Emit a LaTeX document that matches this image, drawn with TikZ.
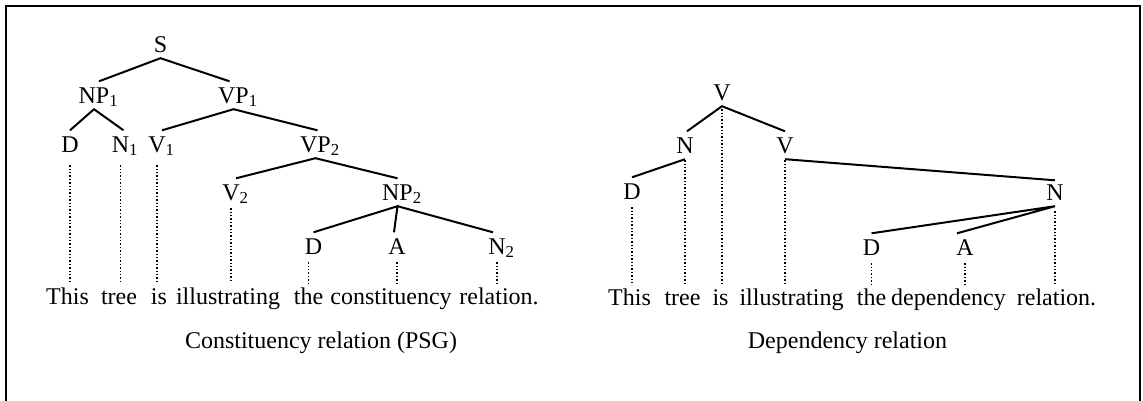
\documentclass[tikz,border=0pt]{standalone}
\usepackage{fontspec}
\setmainfont{Liberation Serif}
\usetikzlibrary{calc}
\begin{document}
\begin{tikzpicture}[x=1pt,y=-1pt,
  lab/.style={anchor=base,inner xsep=0pt,inner ysep=6pt,text height=15.5pt,text depth=0pt,font=\fontsize{24}{28}\selectfont},
  word/.style={anchor=base,inner xsep=0pt,inner ysep=4pt,text height=17pt,text depth=5pt,font=\fontsize{24}{28}\selectfont},
  captext/.style={anchor=base,inner sep=0pt,font=\fontsize{24}{28}\selectfont},
  edge/.style={line width=2pt},
  dots/.style={line width=1.4pt,dash pattern=on 1.4pt off 2pt}]
\useasboundingbox (0,0) rectangle (1143,400);
% frame (open at the bottom)
\draw[line width=2.8pt] (6,402) -- (6,6) -- (1140,6) -- (1140,402);

% ---------- constituency tree ----------
\node[lab] (lS)   at (160.5,52) {S};
\node[lab] (lNP1) at (94,103)   {NP\rlap{\textsubscript{1}}};
\node[lab] (lVP1) at (233.5,103) {VP\rlap{\textsubscript{1}}};
\node[lab] (lD1)  at (70,152)   {D};
\node[lab] (lN1)  at (120.5,152) {N\rlap{\textsubscript{1}}};
\node[lab] (lV1)  at (157,152)  {V\rlap{\textsubscript{1}}};
\node[lab] (lVP2) at (315.5,152) {VP\rlap{\textsubscript{2}}};
\node[lab] (lV2)  at (231,200)  {V\rlap{\textsubscript{2}}};
\node[lab] (lNP2) at (397.5,200) {NP\rlap{\textsubscript{2}}};
\node[lab] (lD2)  at (313.5,254) {D};
\node[lab] (lA)   at (397,254)  {A};
\node[lab] (lN2)  at (497,254)  {N\rlap{\textsubscript{2}}};

\node[word] (lw1) at (67.5,304) {This};
\node[word] (lw2) at (119,304)  {tree};
\node[word] (lw3) at (159,304)  {is};
\node[word] (lw4) at (228,304)  {illustrating};
\node[word] (lw5) at (308.5,304) {the};
\node[word] (lw6) at (391,304)  {constituency};
\node[word] (lw7) at (499,304)  {relation.};
\node[captext] (lcap) at (321,348) {Constituency relation (PSG)};

\draw[edge] ($(lNP1.north)+(5,0)$) -- (lS.south) -- ($(lVP1.north)+(-4,0)$);
\draw[edge] (lD1.north) -- (lNP1.south) -- ($(lN1.north)+(3,0)$);
\draw[edge] ($(lV1.north)+(5,0)$) -- (lVP1.south) -- ($(lVP2.north)+(2,0)$);
\draw[edge] ($(lV2.north)+(5,0)$) -- (lVP2.south) -- (lNP2.north);
\draw[edge] (lD2.north) -- (lNP2.south) -- ($(lA.north)+(-3,0)$);
\draw[edge] (lNP2.south) -- ($(lN2.north)+(-4,0)$);

\draw[dots,shorten <=7pt] (lD1.south) -- (lD1.south |- lw1.north);
\draw[dots,shorten <=7pt] (lN1.south) -- (lN1.south |- lw2.north);
\draw[dots,shorten <=7pt] (lV1.south) -- (lV1.south |- lw3.north);
\draw[dots,shorten <=2pt] (lV2.south) -- (lV2.south |- lw4.north);
\draw[dots,shorten <=2pt] (lw5.north |- lD2.south) -- (lw5.north);
\draw[dots,shorten <=2pt] (lA.south) -- (lA.south |- lw6.north);
\draw[dots,shorten <=2pt] (lN2.south) -- (lN2.south |- lw7.north);

% ---------- dependency tree ----------
\node[lab] (rV)  at (722,100)  {V};
\node[lab] (rN)  at (685,153)  {N};
\node[lab] (rVb) at (785,153)  {V};
\node[lab] (rD)  at (632,199)  {D};
\node[lab] (rNr) at (1055,200) {N};
\node[lab] (rD2) at (871.5,255) {D};
\node[lab] (rA)  at (965,255)  {A};

\node[word] (rw1) at (629.5,305) {This};
\node[word] (rw2) at (682.5,305) {tree};
\node[word] (rw3) at (720.5,305) {is};
\node[word] (rw4) at (791.5,305) {illustrating};
\node[word] (rw5) at (871.5,305) {the};
\node[word] (rw6) at (948.5,305) {dependency};
\node[word] (rw7) at (1056.5,305) {relation.};
\node[captext] (rcap) at (847.5,348) {Dependency relation};

\draw[edge] ($(rN.north)+(2,0)$) -- (rV.south) -- (rVb.north);
\draw[edge] (rD.north) -- (rN.south);
\draw[edge] (rVb.south) -- ($(rNr.north)+(0,2)$);
\draw[edge] (rD2.north) -- (rNr.south) -- ($(rA.north)+(-8,0)$);

\draw[dots,shorten <=3pt] (rV.south) -- (rV.south |- rw3.north);
\draw[dots,shorten <=1pt] (rN.south) -- (rN.south |- rw2.north);
\draw[dots,shorten <=1pt] (rVb.south) -- (rVb.south |- rw4.north);
\draw[dots,shorten <=2pt] (rD.south) -- (rD.south |- rw1.north);
\draw[dots,shorten <=5pt] (rNr.south) -- (rNr.south |- rw7.north);
\draw[dots,shorten <=2pt] (rD2.south) -- (rD2.south |- rw5.north);
\draw[dots,shorten <=2pt] (rA.south) -- (rA.south |- rw6.north);
\end{tikzpicture}
\end{document}
